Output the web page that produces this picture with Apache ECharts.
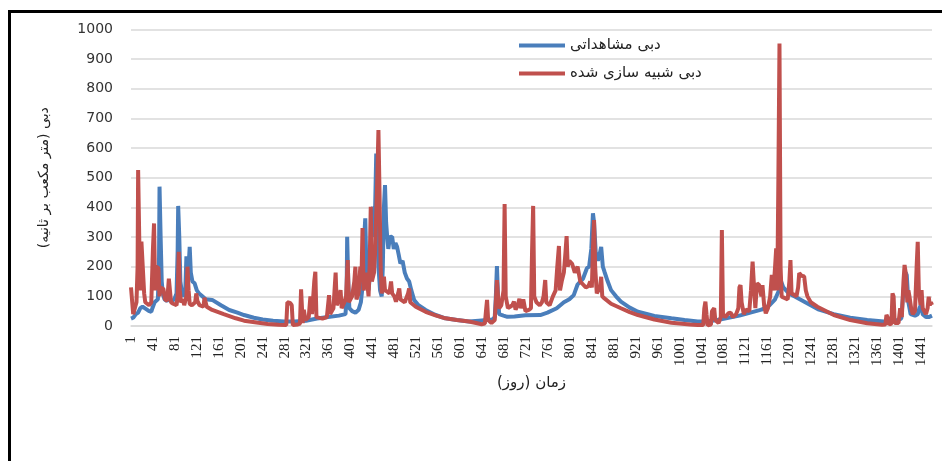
<!DOCTYPE html>
<html>
<head>
<meta charset="utf-8">
<script src="https://cdn.jsdelivr.net/npm/echarts@6/dist/echarts.min.js"></script>
<style>
  html, body { margin: 0; padding: 0; background: #fff; }
  #chart { width: 942px; height: 461px; }
</style>
</head>
<body>
<div id="chart"></div>
<script>
// day numbers (category axis) and tick settings
var dayCount = 1461;
var yTicks = [0, 1000, 100];

// observed discharge: [day, m3/s]
var obsFlow = [
  [1,25],[5,28],[8,25],[10,40],[14,45],[18,60],[22,65],[26,60],[30,55],[34,50],[38,48],[40,60],[42,70],[44,80],[47,80],[50,90],
  [52,200],[53,470],[55,300],[57,150],[59,110],[62,90],[66,85],[72,90],[76,85],[80,90],[84,110],[86,250],[87,405],[89,300],[91,150],
  [94,110],[98,100],[100,120],[102,235],[104,240],[106,200],[108,267],[110,180],[113,150],[117,144],[121,120],[125,110],[131,100],
  [137,90],[149,88],[165,70],[180,54],[195,45],[207,37],[225,28],[241,22],[260,18],[280,15],[300,15],[320,18],[340,25],[360,30],
  [380,35],[392,40],[394,100],[395,301],[397,150],[399,60],[404,50],[410,45],[416,55],[420,80],[424,150],[427,330],[428,363],
  [430,200],[434,120],[438,200],[440,380],[442,402],[444,300],[446,400],[448,582],[450,400],[452,200],[455,120],[458,100],[460,200],
  [462,400],[464,475],[466,350],[468,300],[470,260],[473,300],[477,301],[480,260],[483,280],[486,267],[489,240],[492,211],[496,220],
  [500,180],[504,160],[508,150],[512,120],[517,88],[525,70],[538,54],[555,38],[574,26],[595,20],[617,15],[635,18],[650,20],[660,22],
  [664,30],[666,100],[668,202],[670,100],[672,40],[680,35],[687,31],[700,32],[720,36],[747,37],[760,45],[777,60],[790,80],[800,90],
  [808,104],[815,140],[820,150],[825,160],[832,195],[836,200],[840,260],[843,380],[845,350],[848,250],[852,220],[855,240],[858,267],
  [861,200],[864,183],[870,150],[876,121],[885,100],[894,82],[910,62],[925,48],[955,34],[986,26],[1010,20],[1034,15],[1050,15],
  [1070,20],[1090,28],[1110,35],[1130,45],[1150,55],[1165,70],[1175,90],[1182,120],[1184,170],[1186,150],[1190,130],[1200,110],
  [1210,100],[1225,85],[1240,70],[1255,55],[1282,40],[1312,28],[1343,20],[1373,15],[1390,15],[1405,25],[1409,120],[1413,180],
  [1415,172],[1418,80],[1422,40],[1430,35],[1435,40],[1438,60],[1441,71],[1444,40],[1450,30],[1455,30],[1461,35]
];

// simulated discharge: [day, m3/s]
var simFlow = [
  [1,130],[3,125],[5,40],[8,60],[11,80],[13,200],[14,526],[16,300],[18,120],[20,285],[23,280],[25,110],[27,80],[30,75],[34,70],
  [38,80],[41,260],[43,346],[45,120],[47,200],[51,195],[53,100],[55,130],[60,125],[63,90],[67,85],[70,160],[72,165],[74,80],[78,75],
  [84,70],[86,100],[88,250],[90,120],[92,80],[96,90],[98,70],[102,100],[104,200],[106,120],[108,75],[112,70],[118,80],[120,110],
  [122,85],[126,70],[133,65],[135,95],[137,90],[139,65],[149,54],[170,40],[192,26],[207,18],[230,12],[250,7],[270,4],[284,3],
  [286,80],[291,78],[294,70],[296,3],[305,5],[309,8],[311,124],[314,10],[316,55],[319,20],[325,30],[328,100],[331,40],[335,150],
  [337,183],[339,30],[350,25],[358,30],[362,104],[364,40],[370,60],[374,180],[376,70],[380,90],[383,121],[385,60],[390,80],[393,100],
  [396,222],[398,80],[404,100],[408,150],[410,200],[412,90],[416,110],[419,200],[421,150],[423,330],[425,120],[430,180],[434,100],
  [436,206],[438,402],[440,150],[444,180],[446,250],[448,380],[450,500],[452,661],[454,450],[456,200],[458,110],[460,140],[462,166],
  [464,120],[468,116],[472,110],[475,150],[477,110],[481,100],[484,82],[488,110],[490,127],[492,90],[500,80],[506,110],[508,127],
  [510,80],[520,65],[538,48],[556,36],[574,26],[595,20],[617,15],[630,10],[640,6],[646,8],[648,50],[650,88],[652,20],[658,10],
  [664,20],[666,80],[668,155],[670,100],[672,60],[676,70],[680,120],[682,411],[684,100],[688,60],[692,65],[696,70],[699,82],[702,55],
  [706,70],[709,92],[712,60],[716,90],[720,50],[726,54],[730,60],[732,250],[734,405],[736,100],[740,80],[746,70],[750,80],[753,100],
  [756,155],[758,80],[764,70],[770,100],[775,120],[778,200],[781,270],[783,120],[786,150],[790,180],[793,250],[795,303],[797,200],
  [800,220],[805,210],[810,180],[815,200],[820,150],[825,140],[830,130],[835,135],[838,150],[841,130],[843,260],[845,357],[847,200],
  [850,110],[853,115],[856,130],[858,166],[860,100],[864,93],[876,75],[894,60],[910,47],[925,37],[955,22],[986,11],[1020,5],
  [1034,3],[1044,3],[1046,60],[1048,82],[1050,40],[1052,2],[1058,5],[1060,50],[1064,60],[1066,20],[1072,10],[1076,30],[1078,324],
  [1080,40],[1084,30],[1090,43],[1094,45],[1098,30],[1100,35],[1104,40],[1108,60],[1110,130],[1112,138],[1114,80],[1118,40],
  [1122,55],[1125,54],[1128,50],[1131,120],[1134,217],[1137,120],[1139,60],[1142,144],[1146,138],[1150,100],[1152,138],[1155,70],
  [1158,43],[1162,60],[1166,100],[1169,172],[1172,120],[1175,200],[1177,262],[1179,120],[1181,500],[1183,953],[1185,200],[1187,99],
  [1192,95],[1198,90],[1201,150],[1203,222],[1205,110],[1210,105],[1214,100],[1217,130],[1219,178],[1223,170],[1228,167],[1231,120],
  [1234,100],[1237,99],[1240,80],[1252,65],[1282,37],[1312,20],[1343,9],[1370,4],[1376,5],[1378,37],[1380,30],[1383,5],[1387,8],
  [1389,110],[1391,100],[1393,10],[1400,10],[1403,60],[1406,30],[1409,150],[1411,206],[1413,180],[1416,80],[1418,120],[1420,99],
  [1423,60],[1426,40],[1430,50],[1433,200],[1435,284],[1437,120],[1440,71],[1442,121],[1444,60],[1447,54],[1450,40],[1453,60],
  [1455,99],[1457,70],[1459,80],[1461,71]
];

var obsName = 'دبی مشاهداتی';
var simName = 'دبی شبیه سازی شده';
var xTitle = 'زمان (روز)';
var yTitle = 'دبی (متر مکعب بر ثانیه)';

var days = [];
for (var i = 1; i <= dayCount; i++) days.push(String(i));

function toCat(arr) {
  return arr.map(function (p) { return [String(p[0]), p[1]]; });
}

var myChart = echarts.init(document.getElementById('chart'));

var option = {
  backgroundColor: '#fff',
  animation: false,
  graphic: [
    {
      type: 'rect',
      shape: { x: 9.5, y: 11.5, width: 960, height: 480 },
      style: { fill: 'none', stroke: '#000', lineWidth: 3 },
      z: 100
    }
  ],
  legend: {
    orient: 'vertical',
    left: 514,
    top: 33,
    icon: 'rect',
    itemWidth: 46,
    itemHeight: 4,
    itemGap: 13,
    textStyle: { fontFamily: 'DejaVu Sans', fontSize: 15, color: '#222' },
    data: [obsName, simName]
  },
  grid: { left: 131, right: 10, top: 29.5, bottom: 135 },
  xAxis: {
    type: 'category',
    data: days,
    boundaryGap: false,
    name: xTitle,
    nameLocation: 'middle',
    nameGap: 50,
    nameTextStyle: { fontFamily: 'DejaVu Sans', fontSize: 15, color: '#222' },
    axisLine: { lineStyle: { color: '#d9d9d9', width: 1.5 } },
    axisTick: { show: false },
    axisLabel: {
      interval: 39,
      rotate: 90,
      margin: 10,
      fontFamily: 'Liberation Serif',
      fontSize: 15,
      color: '#222'
    }
  },
  yAxis: {
    type: 'value',
    min: yTicks[0],
    max: yTicks[1],
    interval: yTicks[2],
    name: yTitle,
    nameLocation: 'middle',
    nameGap: 80,
    nameTextStyle: { fontFamily: 'DejaVu Sans', fontSize: 14, color: '#222' },
    axisLine: { show: false },
    axisTick: { show: false },
    axisLabel: {
      margin: 18,
      fontFamily: 'DejaVu Sans',
      fontSize: 14,
      color: '#333',
      formatter: function (v) { return String(v); }
    },
    splitLine: { lineStyle: { color: '#d9d9d9', width: 1.5 } }
  },
  series: [
    {
      name: obsName,
      type: 'line',
      data: toCat(obsFlow),
      symbol: 'none',
      lineStyle: { color: '#4a7ebb', width: 4 },
      itemStyle: { color: '#4a7ebb' }
    },
    {
      name: simName,
      type: 'line',
      data: toCat(simFlow),
      symbol: 'none',
      lineStyle: { color: '#c0504d', width: 4 },
      itemStyle: { color: '#c0504d' }
    }
  ]
};

myChart.setOption(option);
</script>
</body>
</html>
